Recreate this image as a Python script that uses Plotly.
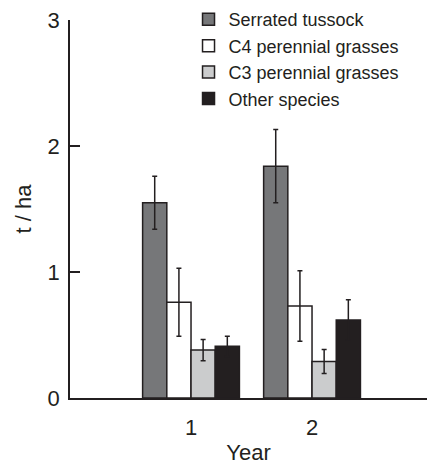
import plotly.graph_objects as go

years = [1, 2]
tick_labels = ["1", "2"]
series_names = ["Serrated tussock", "C4 perennial grasses", "C3 perennial grasses", "Other species"]
serrated = [1.55, 1.84]
serrated_err = [0.21, 0.29]
c4 = [0.76, 0.73]
c4_err = [0.27, 0.28]
c3 = [0.38, 0.29]
c3_err = [0.085, 0.095]
other = [0.41, 0.62]
other_err = [0.08, 0.16]
colors = ["#767779", "#ffffff", "#cbcccd", "#231f20"]

values = [serrated, c4, c3, other]
errors = [serrated_err, c4_err, c3_err, other_err]

fig = go.Figure()
for name, v, e, c in zip(series_names, values, errors, colors):
    fig.add_trace(go.Bar(
        x=years, y=v, name=name,
        marker=dict(color=c, line=dict(color="#231f20", width=1.5)),
        error_y=dict(type="data", array=e, visible=True, color="#231f20", thickness=1.5, width=2.5),
    ))

fig.update_layout(
    width=427, height=467,
    margin=dict(l=70, r=0, t=20, b=69),
    paper_bgcolor="white", plot_bgcolor="white",
    barmode="group", bargap=0.2, bargroupgap=0,
    font=dict(family="Liberation Sans, Arial, sans-serif", color="#231f20", size=22),
    showlegend=True,
    legend=dict(x=0.332, y=1.05, xanchor="left", yanchor="top",
                font=dict(size=18), bgcolor="rgba(0,0,0,0)", traceorder="normal"),
    xaxis=dict(range=[0, 2.95], tickvals=years, ticktext=tick_labels, showline=True,
               linecolor="#231f20", linewidth=1.5, ticks="", showgrid=False, zeroline=False,
               ticklabelstandoff=9,
               title=dict(text="Year", font=dict(size=22), standoff=5)),
    yaxis=dict(range=[0, 3], tickvals=[0, 1, 2, 3], showline=True, linecolor="#231f20",
               linewidth=1.5, ticks="inside", ticklen=10, tickwidth=1.5, tickcolor="#231f20",
               showgrid=False, zeroline=False, ticklabelstandoff=4,
               title=dict(text="t / ha", font=dict(size=22), standoff=10)),
)

fig.write_html("out.html")
